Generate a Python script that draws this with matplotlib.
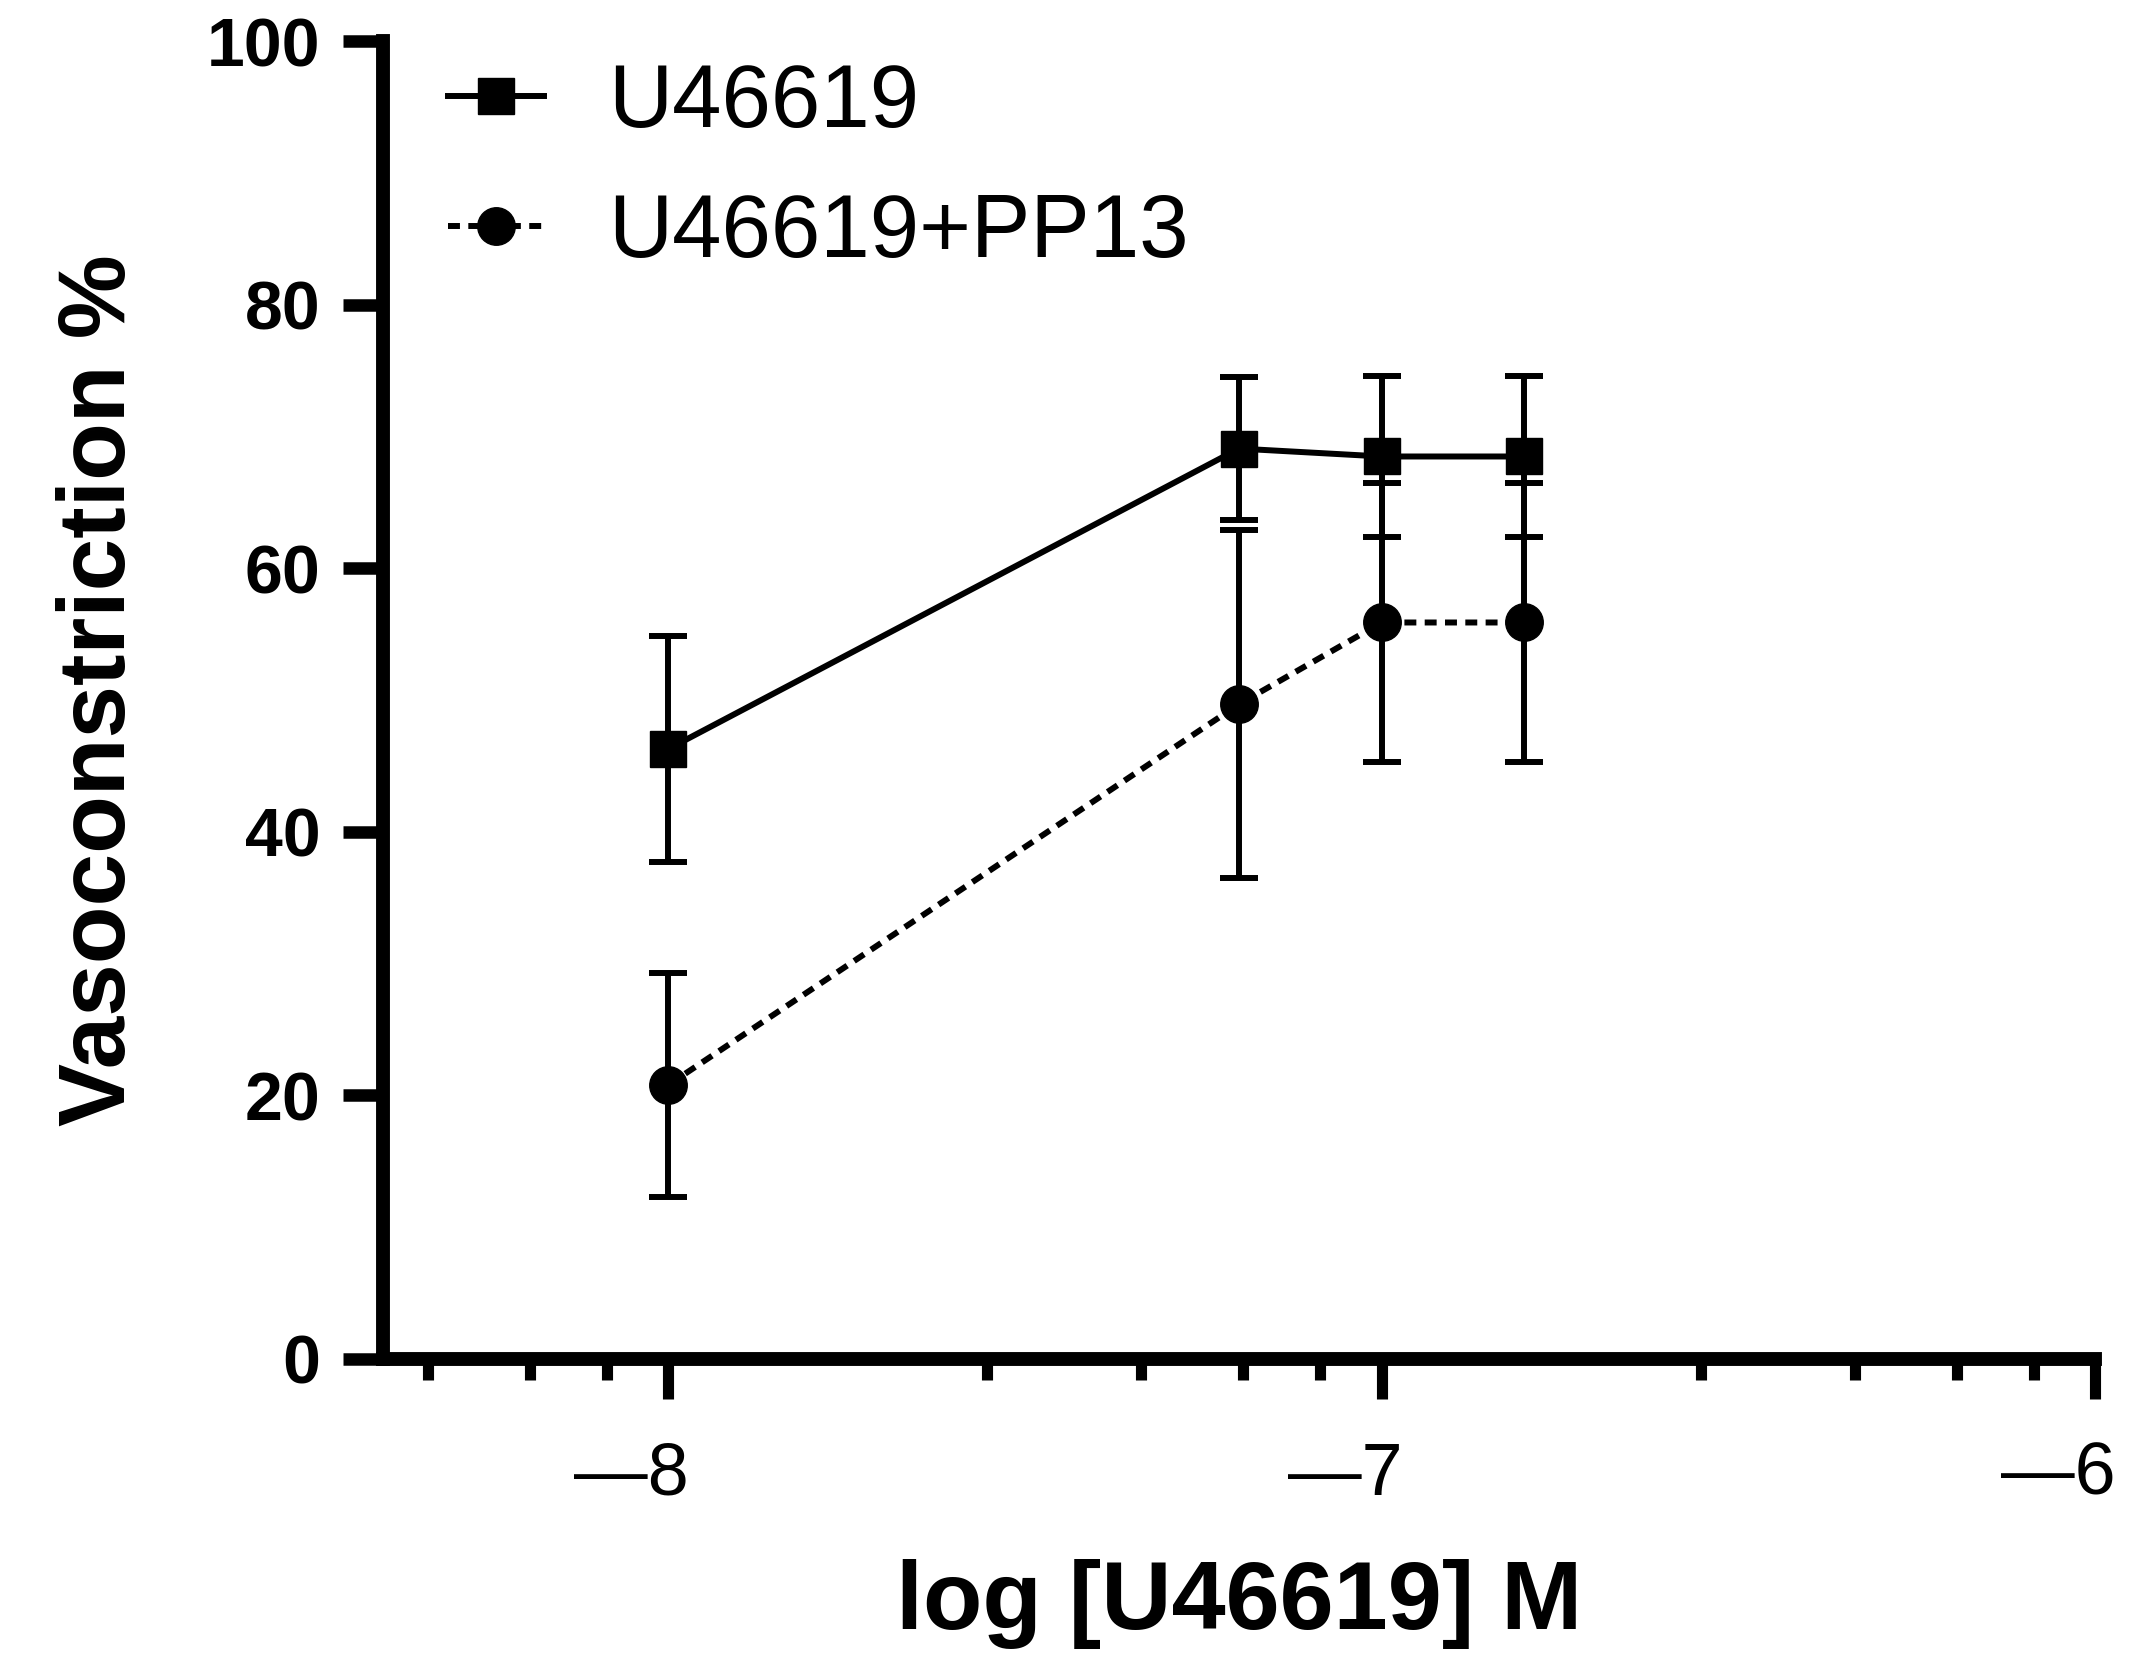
import numpy as np
import matplotlib
matplotlib.use('Agg')
import matplotlib.pyplot as plt
from matplotlib import transforms
from matplotlib.ticker import FixedLocator, NullFormatter

# log10 of U46619 concentration (M)
log_conc = np.array([-8.0, -7.2, -7.0, -6.8])

u46619_mean = [46.3, 69.1, 68.5, 68.5]
u46619_err = [8.6, 5.4, 6.1, 6.1]

pp13_mean = [20.8, 49.7, 55.9, 55.9]
pp13_err = [8.5, 13.2, 10.6, 10.6]

labels = ['U46619', 'U46619+PP13']
x_tick_labels = ['\u20148', '\u20147', '\u20146']


def main():
    plt.rcParams['font.family'] = ['Liberation Sans', 'DejaVu Sans']

    conc = 10.0 ** log_conc

    fig = plt.figure(figsize=(21.42, 16.66), dpi=100)
    ax = fig.add_axes([0.1788, 0.1843, 0.7993, 0.7908])
    ax.set_xscale('log')
    ax.set_xlim(10 ** -8.4, 1e-6)
    ax.set_ylim(0, 100)

    lw = 4.3
    # error bars first, without legend entries
    ax.errorbar(conc, u46619_mean, yerr=u46619_err, fmt='none', ecolor='black',
                elinewidth=lw, capsize=14, capthick=lw, zorder=2)
    ax.errorbar(conc, pp13_mean, yerr=pp13_err, fmt='none', ecolor='black',
                elinewidth=lw, capsize=14, capthick=lw, zorder=2)

    l1, = ax.plot(conc, u46619_mean, '-', color='black', lw=lw, marker='s',
                  markersize=26, zorder=3, label=labels[0])
    l2, = ax.plot(conc, pp13_mean, color='black', lw=lw, marker='o',
                  markersize=27, zorder=3, label=labels[1], dashes=(2.0, 1.4))

    for side in ['top', 'right']:
        ax.spines[side].set_visible(False)
    for side in ['left', 'bottom']:
        ax.spines[side].set_linewidth(10)

    # y axis
    ax.set_yticks([0, 20, 40, 60, 80, 100])
    ax.tick_params(axis='y', direction='out', length=29, width=9, labelsize=49, pad=16)
    for lbl in ax.get_yticklabels():
        lbl.set_fontweight('bold')

    # x axis: Prism style log ticks
    ax.set_xticks([1e-8, 1e-7, 1e-6])
    ax.set_xticklabels(x_tick_labels)
    minor = [m * 10.0 ** d for d in (-9, -8, -7) for m in (2.8, 4.6, 6.4, 8.2)]
    minor = [m for m in minor if m > 10 ** -8.4]
    ax.xaxis.set_minor_locator(FixedLocator(minor))
    ax.xaxis.set_minor_formatter(NullFormatter())
    ax.tick_params(axis='x', which='major', direction='out', length=29, width=8,
                   labelsize=53, pad=30)
    ax.tick_params(axis='x', which='minor', direction='out', length=15, width=8)
    shift = transforms.ScaledTranslation(15 / 72, 0, fig.dpi_scale_trans)
    for lbl in ax.get_xticklabels():
        lbl.set_horizontalalignment('right')
        lbl.set_transform(lbl.get_transform() + shift)

    ax.set_xlabel('log [U46619] M', fontsize=70, fontweight='bold')
    ax.xaxis.set_label_coords(0.5, -0.152)
    ax.set_ylabel('Vasoconstriction %', fontsize=68, fontweight='bold')
    ax.yaxis.set_label_coords(-0.139, 0.508)

    ax.legend(handles=[l1, l2], loc='upper left', bbox_to_anchor=(0.2092, 0.963),
              bbox_transform=fig.transFigure, frameon=False, fontsize=64,
              handlelength=1.08, handletextpad=0.72, labelspacing=0.52,
              borderpad=0, borderaxespad=0)

    fig.savefig('out.png', dpi=100)


if __name__ == '__main__':
    main()
